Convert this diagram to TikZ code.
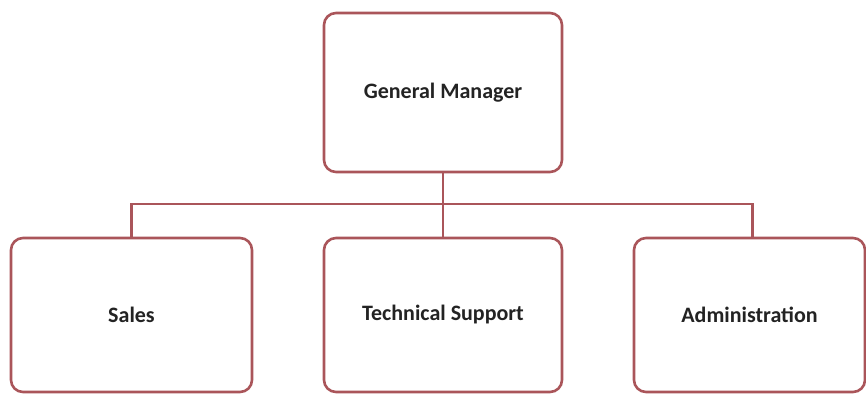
\documentclass[tikz,border=0pt]{standalone}
\usepackage{fontspec}
\setmainfont{Carlito}
\definecolor{boxred}{RGB}{170,85,90}
\definecolor{txt}{RGB}{35,35,35}
\begin{document}
\begin{tikzpicture}[x=1pt,y=-1pt,
  orgbox/.style={draw=boxred, line width=2.6pt, rounded corners=12pt, fill=white,
    inner sep=0pt, font=\fontsize{22}{26}\selectfont\bfseries, text=txt},
  link/.style={draw=boxred, line width=2.4pt}]
\useasboundingbox (0,0) rectangle (866,394);
\node[orgbox, minimum width=238pt, minimum height=159pt] (gm) at (443,92.5) {General Manager};
\node[orgbox, minimum width=241pt, minimum height=154pt] (sales) at (131.5,315) {Sales};
\node[orgbox, minimum width=238pt, minimum height=154pt] (ts) at (443,315) {Technical Support};
\node[orgbox, minimum width=231pt, minimum height=154pt] (admin) at (749.5,315) {Administration};
\coordinate (bus) at (443,204);
\draw[link] (gm.south) -- (ts.north);
\draw[link] (sales.north) |- (bus) -| ([xshift=3pt]admin.north);
\end{tikzpicture}
\end{document}
